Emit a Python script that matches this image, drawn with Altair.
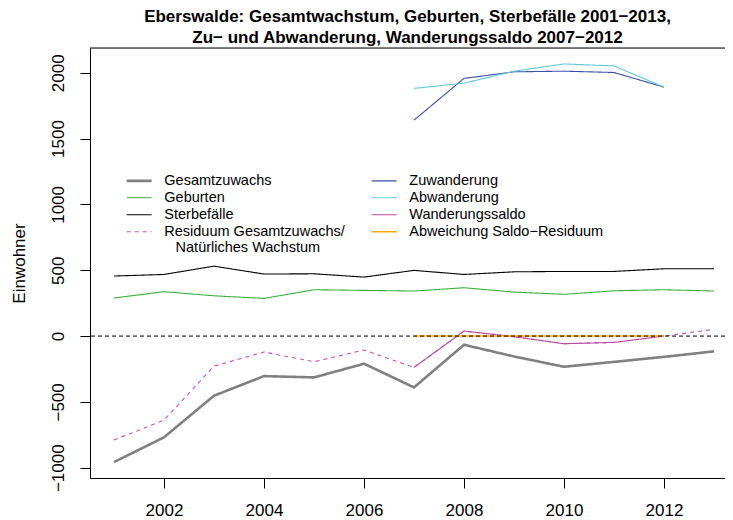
import altair as alt
import pandas as pd

# ---- data ----
years = list(range(2001, 2014))
gesamtzuwachs = [-957, -769, -453, -304, -314, -210, -390, -66, -155, -233, -196, -158, -116]
geburten = [289, 337, 306, 286, 352, 347, 342, 367, 334, 317, 344, 352, 342]
sterbefaelle = [456, 468, 531, 471, 473, 448, 499, 468, 488, 491, 491, 511, 511]
residuum = [-790, -638, -228, -121, -195, -106, -238, 38, -5, -58, -48, 0, 51]

mig_years = list(range(2007, 2013))
zuwanderung = [1640, 1957, 2007, 2012, 2002, 1891]
abwanderung = [1881, 1921, 2012, 2067, 2052, 1891]
wanderungssaldo = [-238, 38, -5, -58, -48, 0]
abweichung = [0, 0, 0, 0, 0, 0]

RES = "Residuum Gesamtzuwachs/Natürliches Wachstum"
ABW = "Abweichung Saldo\u2212Residuum"

series_data = [
    ("Gesamtzuwachs", years, gesamtzuwachs),
    ("Geburten", years, geburten),
    ("Sterbefälle", years, sterbefaelle),
    (RES, years, residuum),
    ("Zuwanderung", mig_years, zuwanderung),
    ("Abwanderung", mig_years, abwanderung),
    ("Wanderungssaldo", mig_years, wanderungssaldo),
    (ABW, mig_years, abweichung),
]

# legend order (filled column by column, two columns)
legend_order = ["Gesamtzuwachs", "Geburten", "Sterbefälle", RES,
                "Zuwanderung", "Abwanderung", "Wanderungssaldo", ABW]
legend_colors = ["#808080", "#3cb03c", "#000000", "#c94fb8",
                 "#3b4fa8", "#62c8dc", "#b84aa8", "#ffa500"]
legend_dashes = [[1, 0], [1, 0], [1, 0], [4, 4], [1, 0], [1, 0], [1, 0], [1, 0]]
legend_widths = [2.6, 1.1, 1.1, 1.1, 1.1, 1.1, 1.1, 1.6]

y_ticks = [-1000, -500, 0, 500, 1000, 1500, 2000]
x_ticks = [2002, 2004, 2006, 2008, 2010, 2012]

title_lines = ["Eberswalde: Gesamtwachstum, Geburten, Sterbefälle 2001\u22122013,",
               "Zu\u2212 und Abwanderung, Wanderungssaldo 2007\u22122012"]

rows = []
for name, xs, ys in series_data:
    for xv, yv in zip(xs, ys):
        rows.append({"series": name, "year": xv, "value": yv})
df = pd.DataFrame(rows)

W, H = 635, 430
FONT = "Liberation Sans"

x_scale = alt.Scale(domain=[2000.52, 2013.22], nice=False, zero=False)
y_scale = alt.Scale(domain=[-1078, 2188], nice=False, zero=False)

label_expr = ("datum.label == '" + RES + "' ? ['Residuum Gesamtzuwachs/', "
              "'\u200b\u2002\u00a0Natürliches Wachstum'] : datum.label")

legend = alt.Legend(
    title=None, orient="none", legendX=41.9, legendY=125.5, columns=2,
    symbolType="M-2.5,0H2.5", symbolSize=100, symbolFillColor="transparent",
    labelFont=FONT, labelFontSize=14.5, labelColor="black", labelOffset=17.9,
    labelLimit=400, rowPadding=2, columnPadding=23, padding=0,
    labelExpr=label_expr,
)

lines = alt.Chart(df).mark_line(clip=True).encode(
    x=alt.X("year:Q", scale=x_scale,
            axis=alt.Axis(values=x_ticks, format="d", title=None, grid=False,
                          tickSize=10, tickColor="black", domainColor="black",
                          labelFont=FONT, labelFontSize=17, labelColor="black",
                          labelBaseline="alphabetic", labelPadding=27.5,
                          labelFlush=False)),
    y=alt.Y("value:Q", scale=y_scale,
            axis=alt.Axis(values=y_ticks, format="d", title="Einwohner", grid=False,
                          tickSize=10, tickColor="black", domainColor="black",
                          labelFont=FONT, labelFontSize=17, labelColor="black",
                          labelAngle=270, labelAlign="center",
                          labelBaseline="alphabetic", labelPadding=17,
                          labelFlush=False,
                          titleFont=FONT, titleFontSize=17, titleFontWeight="normal",
                          titleColor="black", titleAngle=270, titleAlign="center",
                          titleBaseline="alphabetic", titleX=-66, titleY=H / 2)),
    color=alt.Color("series:N", scale=alt.Scale(domain=legend_order, range=legend_colors),
                    legend=legend),
    strokeDash=alt.StrokeDash("series:N", scale=alt.Scale(domain=legend_order, range=legend_dashes),
                              legend=legend),
    strokeWidth=alt.StrokeWidth("series:N",
                                scale=alt.Scale(type="ordinal", domain=legend_order, range=legend_widths),
                                legend=legend),
    order="year:Q",
)

zero_line = alt.Chart(pd.DataFrame({"v": [0]})).mark_rule(
    color="black", strokeWidth=1, strokeDash=[4, 3]
).encode(y=alt.Y("v:Q", scale=y_scale))

top_border = alt.Chart(pd.DataFrame({"v": [0]})).mark_rule(
    color="black", strokeWidth=1
).encode(x=alt.value(0), x2=alt.value(W), y=alt.value(0))

chart = alt.layer(lines, zero_line, top_border).properties(
    width=W, height=H,
    title=alt.TitleParams(text=title_lines, font=FONT, fontSize=17, fontWeight="bold",
                          color="black", anchor="middle", lineHeight=21,
                          baseline="bottom", offset=1, dy=17),
    padding={"left": 82, "top": 40, "right": 0, "bottom": 42},
    autosize=alt.AutoSizeParams(type="none"),
).configure_view(stroke=None).configure(background="white")

chart.save("out.html", embed_options={"renderer": "svg", "actions": False})
